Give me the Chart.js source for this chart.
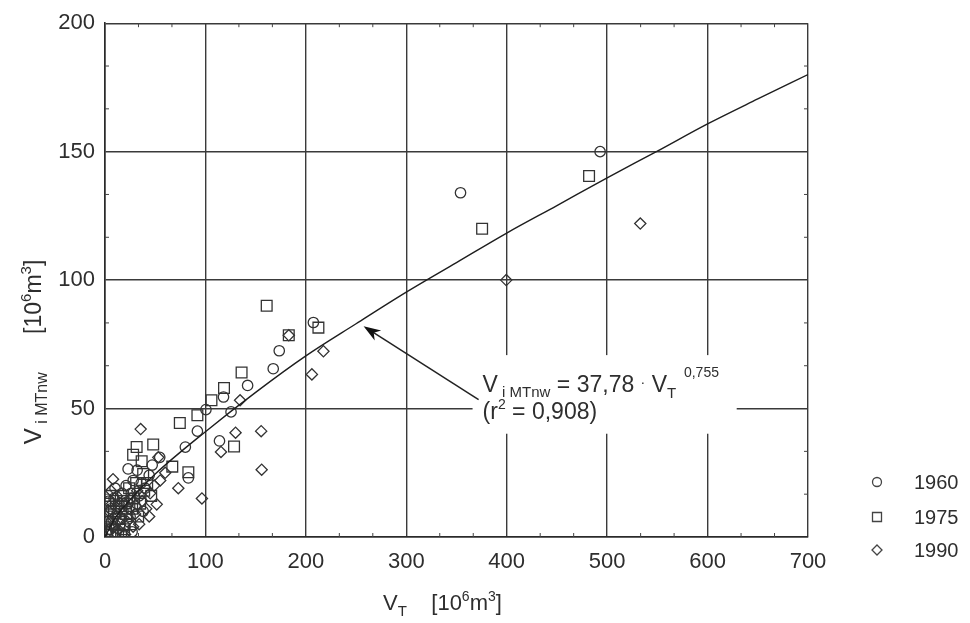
<!DOCTYPE html>
<html>
<head>
<meta charset="utf-8">
<script src="https://cdn.jsdelivr.net/npm/chart.js@4"></script>
<style>
  html, body { margin: 0; padding: 0; background: #fff; }
</style>
</head>
<body>
<canvas id="myChart" width="970" height="623"></canvas>
<script>
// tick values
const xTicks = [0, 100, 200, 300, 400, 500, 600, 700];
const yTicks = [0, 50, 100, 150, 200];

// 1960 (circles)
const x1960 = [493, 354, 207.5, 173.5, 167.5, 142, 118, 125.5, 100.5, 92, 80, 114, 23, 83, 54.5,
  2, 3, 5, 6, 8, 9, 11, 12, 14, 15, 17, 18, 20, 21, 23, 25, 26, 28, 30, 32, 34, 36, 40, 44, 47, 10, 4, 27, 38];
const y1960 = [150, 134, 83.5, 72.5, 65.5, 59, 54.5, 48.7, 49.6, 41.2, 35, 37.4, 26.5, 23, 31,
  1, 6, 3, 11, 7, 15, 2, 9, 13, 5, 17, 10, 4, 20, 13, 8, 17, 22, 12, 26, 16, 21, 19, 24, 28, 19, 14, 2, 10];

// 1975 (squares)
const x1975 = [482, 375.5, 161, 212.5, 183, 136, 118.5, 106, 92, 74.5, 48, 31.5, 36.5, 67, 38, 83, 128.5, 28,
  1, 2, 3, 5, 7, 9, 11, 13, 14, 16, 18, 19, 21, 22, 24, 25, 27, 29, 31, 33, 35, 39, 42, 46, 7, 16];
const y1975 = [140.5, 120, 90, 81.5, 78.5, 64, 58, 53.2, 47.4, 44.4, 36, 35, 29.5, 27.4, 24.5, 25.2, 35.2, 32,
  3, 8, 13, 16, 5, 10, 14, 1, 7, 12, 16, 3, 9, 14, 19, 5, 11, 15, 21, 8, 13, 18, 21, 16, 1, 0.5];

// 1990 (diamonds)
const x1990 = [533, 399.5, 217.5, 206, 134.5, 130, 115.5, 155.5, 156, 35.5, 8, 73, 51.5, 53, 60, 55, 96.5, 183,
  1, 3, 4, 6, 7, 9, 10, 12, 13, 15, 17, 19, 20, 22, 24, 26, 28, 30, 32, 34, 37, 41, 45, 49, 44];
const y1990 = [122, 100, 72.3, 63.3, 53.2, 40.6, 33.1, 41.2, 26.2, 42, 22.5, 19, 12.7, 31, 25, 22, 15, 78.5,
  6, 2, 10, 18, 13, 4, 8, 16, 3, 11, 7, 13, 1, 6, 11, 15, 4, 9, 18, 5, 14, 11, 17, 20, 8];

// fit curve
const fitX = [0, 10, 25, 50, 100, 150, 200, 250, 300, 350, 400, 450, 500, 550, 600, 650, 700];
const fitY = [0, 7.3, 14.5, 24.5, 41, 56.3, 70.5, 83, 95.3, 106.8, 118.3, 129, 139.8, 150.2, 160.8, 170.5, 180];

const FONT = '"Liberation Sans", Arial, sans-serif';
const INK = '#2e2e2e';

function pts(xs, ys) {
  return xs.map((x, i) => ({ x: x, y: ys[i] }));
}

function drawRuns(ctx, runs, x, y, center) {
  let total = 0;
  runs.forEach(r => {
    ctx.font = r[1] + 'px ' + FONT;
    total += ctx.measureText(r[0]).width;
  });
  let cx = center ? x - total / 2 : x;
  ctx.textAlign = 'left';
  ctx.textBaseline = 'alphabetic';
  runs.forEach(r => {
    ctx.font = r[1] + 'px ' + FONT;
    ctx.fillText(r[0], cx, y + r[2]);
    cx += ctx.measureText(r[0]).width;
  });
}

const extras = {
  id: 'extras',
  beforeDatasetsDraw(chart) {
    const ctx = chart.ctx;
    const xs = chart.scales.x, ys = chart.scales.y;
    const a = chart.chartArea;
    ctx.save();
    // minor ticks on all four sides
    ctx.strokeStyle = '#444';
    ctx.lineWidth = 1;
    ctx.beginPath();
    for (let v = 100 / 3; v < 700; v += 100 / 3) {
      if (Math.abs(v / 100 - Math.round(v / 100)) < 0.01) continue;
      const px = xs.getPixelForValue(v);
      ctx.moveTo(px, a.bottom); ctx.lineTo(px, a.bottom - 4);
      ctx.moveTo(px, a.top); ctx.lineTo(px, a.top + 4);
    }
    for (let v = 50 / 3; v < 200; v += 50 / 3) {
      if (Math.abs(v / 50 - Math.round(v / 50)) < 0.01) continue;
      const py = ys.getPixelForValue(v);
      ctx.moveTo(a.left, py); ctx.lineTo(a.left + 4, py);
      ctx.moveTo(a.right, py); ctx.lineTo(a.right - 4, py);
    }
    ctx.stroke();
    // white box behind the equation
    const bx0 = xs.getPixelForValue(366), bx1 = xs.getPixelForValue(629);
    const by0 = ys.getPixelForValue(70.8), by1 = ys.getPixelForValue(40.2);
    ctx.fillStyle = '#fff';
    ctx.fillRect(bx0, by0, bx1 - bx0, by1 - by0);
    ctx.restore();
  },
  afterDraw(chart) {
    const ctx = chart.ctx;
    const xs = chart.scales.x, ys = chart.scales.y;
    ctx.save();
    ctx.fillStyle = INK;

    // axis titles
    drawRuns(ctx, [['V', 22, 0], ['T', 15, 6], ['    [10', 22, 0], ['6', 14, -9], ['m', 22, 0], ['3', 14, -9], [']', 22, 0]],
      383, 610, false);
    ctx.translate(41, 352);
    ctx.rotate(-Math.PI / 2);
    drawRuns(ctx, [['V', 24, 0], [' i MTnw', 16, 6], ['      [10', 23, 0], ['6', 15, -10], ['m', 23, 0], ['3', 15, -10], [']', 23, 0]],
      0, 0, true);
    ctx.setTransform(1, 0, 0, 1, 0, 0);

    // equation
    const tx = xs.getPixelForValue(376);
    const ty = ys.getPixelForValue(56.5);
    drawRuns(ctx, [['V', 23, 0], [' i MTnw', 15, 5], [' = 37,78 ', 23, 0], ['\u00b7', 14, -5], [' V', 23, 0], ['T', 15, 6], ['  0,755', 14, -15]],
      tx, ty, false);
    drawRuns(ctx, [['(r', 23, 0], ['2', 14, -10], [' = 0,908)', 23, 0]], tx, ty + 27, false);

    // arrow
    const ax0 = xs.getPixelForValue(372), ay0 = ys.getPixelForValue(53.5);
    const ax1 = xs.getPixelForValue(257.5), ay1 = ys.getPixelForValue(82);
    const ang = Math.atan2(ay1 - ay0, ax1 - ax0);
    ctx.strokeStyle = '#222';
    ctx.lineWidth = 1.5;
    ctx.beginPath();
    ctx.moveTo(ax0, ay0);
    ctx.lineTo(ax1 - 10 * Math.cos(ang), ay1 - 10 * Math.sin(ang));
    ctx.stroke();
    ctx.fillStyle = '#111';
    ctx.beginPath();
    ctx.moveTo(ax1, ay1);
    ctx.lineTo(ax1 - 17 * Math.cos(ang) + 6 * Math.sin(ang), ay1 - 17 * Math.sin(ang) - 6 * Math.cos(ang));
    ctx.lineTo(ax1 - 12 * Math.cos(ang), ay1 - 12 * Math.sin(ang));
    ctx.lineTo(ax1 - 17 * Math.cos(ang) - 6 * Math.sin(ang), ay1 - 17 * Math.sin(ang) + 6 * Math.cos(ang));
    ctx.closePath();
    ctx.fill();

    // legend
    const rows = [['1960', 'circle', 482], ['1975', 'rect', 517], ['1990', 'diamond', 550]];
    ctx.strokeStyle = '#444';
    ctx.lineWidth = 1.3;
    rows.forEach(r => {
      const mx = 877, my = r[2];
      ctx.beginPath();
      if (r[1] === 'circle') ctx.arc(mx, my, 4.5, 0, Math.PI * 2);
      else if (r[1] === 'rect') ctx.rect(mx - 4.5, my - 4.5, 9, 9);
      else { ctx.moveTo(mx, my - 5); ctx.lineTo(mx + 5, my); ctx.lineTo(mx, my + 5); ctx.lineTo(mx - 5, my); ctx.closePath(); }
      ctx.stroke();
      ctx.fillStyle = INK;
      ctx.font = '20px ' + FONT;
      ctx.textAlign = 'left';
      ctx.textBaseline = 'middle';
      ctx.fillText(r[0], 914, my + 1);
    });
    ctx.restore();
  }
};

const markerCommon = {
  type: 'scatter',
  borderColor: '#333',
  backgroundColor: 'rgba(0,0,0,0)',
  borderWidth: 1.3
};

const ctx = document.getElementById('myChart').getContext('2d');

const myChart = new Chart(ctx, {
  type: 'scatter',
  data: {
    datasets: [
      {
        type: 'line',
        label: 'fit',
        data: pts(fitX, fitY),
        borderColor: '#1e1e1e',
        borderWidth: 1.4,
        pointRadius: 0,
        fill: false,
        cubicInterpolationMode: 'monotone'
      },
      Object.assign({ label: '1960', data: pts(x1960, y1960), pointStyle: 'circle', pointRadius: 5.2 }, markerCommon),
      Object.assign({ label: '1975', data: pts(x1975, y1975), pointStyle: 'rect', pointRadius: 7.6 }, markerCommon),
      Object.assign({ label: '1990', data: pts(x1990, y1990), pointStyle: 'rectRot', pointRadius: 5.6 }, markerCommon)
    ]
  },
  options: {
    responsive: false,
    animation: false,
    devicePixelRatio: 1,
    layout: { padding: { left: 0, top: 18, right: 162, bottom: 0 } },
    plugins: {
      legend: { display: false },
      tooltip: { enabled: false }
    },
    scales: {
      x: {
        type: 'linear',
        min: 0,
        max: 700,
        afterBuildTicks: s => { s.ticks = xTicks.map(v => ({ value: v })); },
        afterFit: s => { s.height = 86; },
        grid: { color: '#3a3a3a', lineWidth: 1.4, drawTicks: false },
        border: { color: '#2a2a2a', width: 1.6 },
        ticks: { color: INK, font: { family: FONT, size: 22 }, padding: 12, maxRotation: 0 }
      },
      y: {
        type: 'linear',
        min: 0,
        max: 200,
        afterBuildTicks: s => { s.ticks = yTicks.map(v => ({ value: v })); },
        afterFit: s => { s.width = 105; },
        grid: { color: '#3a3a3a', lineWidth: 1.4, drawTicks: false },
        border: { color: '#2a2a2a', width: 1.6 },
        ticks: { color: INK, font: { family: FONT, size: 22 }, padding: 10 }
      }
    }
  },
  plugins: [extras]
});
</script>
</body>
</html>
